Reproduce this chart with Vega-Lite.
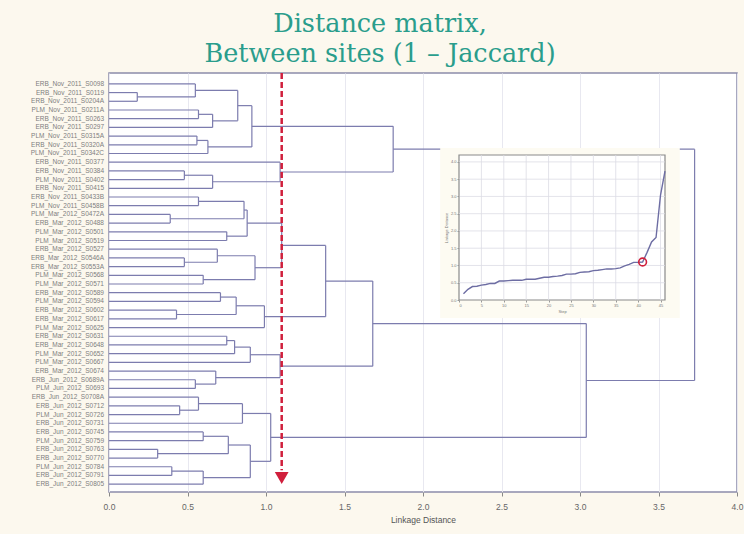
{
  "$schema": "https://vega.github.io/schema/vega-lite/v6.json",
  "width": 628,
  "height": 419,
  "autosize": {"type": "none"},
  "padding": {"left": 109, "top": 73, "right": 7, "bottom": 42},
  "background": "#fcf8ee",
  "title": {
    "text": ["Distance matrix,", "Between sites (1 – Jaccard)"],
    "font": "DejaVu Serif",
    "fontSize": 25.5,
    "fontWeight": "normal",
    "color": "#2a9d8c",
    "lineHeight": 30,
    "anchor": "middle",
    "dx": -43,
    "offset": 4
  },
  "datasets": {
    "nodes": [
      {"h":0.18,"ya":1,"ha":0,"yb":2,"hb":0},
      {"h":0.55,"ya":0,"ha":0,"yb":1.5,"hb":0.18},
      {"h":0.57,"ya":3,"ha":0,"yb":4,"hb":0},
      {"h":0.66,"ya":3.5,"ha":0.57,"yb":5,"hb":0},
      {"h":0.82,"ya":0.75,"ha":0.55,"yb":4.25,"hb":0.66},
      {"h":0.56,"ya":6,"ha":0,"yb":7,"hb":0},
      {"h":0.63,"ya":6.5,"ha":0.56,"yb":8,"hb":0},
      {"h":0.91,"ya":2.5,"ha":0.82,"yb":7.25,"hb":0.63},
      {"h":0.48,"ya":10,"ha":0,"yb":11,"hb":0},
      {"h":0.66,"ya":10.5,"ha":0.48,"yb":12,"hb":0},
      {"h":1.09,"ya":9,"ha":0,"yb":11.25,"hb":0.66},
      {"h":1.81,"ya":4.875,"ha":0.91,"yb":10.125,"hb":1.09},
      {"h":0.57,"ya":13,"ha":0,"yb":14,"hb":0},
      {"h":0.39,"ya":15,"ha":0,"yb":16,"hb":0},
      {"h":0.86,"ya":13.5,"ha":0.57,"yb":15.5,"hb":0.39},
      {"h":0.75,"ya":17,"ha":0,"yb":18,"hb":0},
      {"h":0.88,"ya":14.5,"ha":0.86,"yb":17.5,"hb":0.75},
      {"h":0.48,"ya":20,"ha":0,"yb":21,"hb":0},
      {"h":0.69,"ya":19,"ha":0,"yb":20.5,"hb":0.48},
      {"h":0.6,"ya":22,"ha":0,"yb":23,"hb":0},
      {"h":0.93,"ya":19.75,"ha":0.69,"yb":22.5,"hb":0.6},
      {"h":1.1,"ya":16,"ha":0.88,"yb":21.125,"hb":0.93},
      {"h":0.71,"ya":24,"ha":0,"yb":25,"hb":0},
      {"h":0.43,"ya":26,"ha":0,"yb":27,"hb":0},
      {"h":0.81,"ya":24.5,"ha":0.71,"yb":26.5,"hb":0.43},
      {"h":0.99,"ya":25.5,"ha":0.81,"yb":28,"hb":0},
      {"h":1.38,"ya":18.5625,"ha":1.1,"yb":26.75,"hb":0.99},
      {"h":0.75,"ya":29,"ha":0,"yb":30,"hb":0},
      {"h":0.8,"ya":29.5,"ha":0.75,"yb":31,"hb":0},
      {"h":0.9,"ya":30.25,"ha":0.8,"yb":32,"hb":0},
      {"h":0.55,"ya":34,"ha":0,"yb":35,"hb":0},
      {"h":0.68,"ya":33,"ha":0,"yb":34.5,"hb":0.55},
      {"h":1.09,"ya":31.125,"ha":0.9,"yb":33.75,"hb":0.68},
      {"h":1.68,"ya":22.65625,"ha":1.38,"yb":32.4375,"hb":1.09},
      {"h":0.45,"ya":37,"ha":0,"yb":38,"hb":0},
      {"h":0.57,"ya":36,"ha":0,"yb":37.5,"hb":0.45},
      {"h":0.85,"ya":36.75,"ha":0.57,"yb":39,"hb":0},
      {"h":0.6,"ya":40,"ha":0,"yb":41,"hb":0},
      {"h":0.31,"ya":42,"ha":0,"yb":43,"hb":0},
      {"h":0.76,"ya":40.5,"ha":0.6,"yb":42.5,"hb":0.31},
      {"h":0.4,"ya":44,"ha":0,"yb":45,"hb":0},
      {"h":0.6,"ya":44.5,"ha":0.4,"yb":46,"hb":0},
      {"h":0.9,"ya":41.5,"ha":0.76,"yb":45.25,"hb":0.6},
      {"h":1.03,"ya":37.875,"ha":0.85,"yb":43.375,"hb":0.9},
      {"h":3.04,"ya":27.546875,"ha":1.68,"yb":40.625,"hb":1.03},
      {"h":3.73,"ya":7.5,"ha":1.81,"yb":34.0859,"hb":3.04}
    ],
    "leaves": [
      {"i":0,"name":"ERB_Nov_2011_S0098"},
      {"i":1,"name":"ERB_Nov_2011_S0119"},
      {"i":2,"name":"ERB_Nov_2011_S0204A"},
      {"i":3,"name":"PLM_Nov_2011_S0211A"},
      {"i":4,"name":"ERB_Nov_2011_S0263"},
      {"i":5,"name":"ERB_Nov_2011_S0297"},
      {"i":6,"name":"PLM_Nov_2011_S0315A"},
      {"i":7,"name":"ERB_Nov_2011_S0320A"},
      {"i":8,"name":"PLM_Nov_2011_S0342C"},
      {"i":9,"name":"ERB_Nov_2011_S0377"},
      {"i":10,"name":"ERB_Nov_2011_S0384"},
      {"i":11,"name":"PLM_Nov_2011_S0402"},
      {"i":12,"name":"ERB_Nov_2011_S0415"},
      {"i":13,"name":"ERB_Nov_2011_S0433B"},
      {"i":14,"name":"PLM_Nov_2011_S0458B"},
      {"i":15,"name":"PLM_Mar_2012_S0472A"},
      {"i":16,"name":"ERB_Mar_2012_S0488"},
      {"i":17,"name":"PLM_Mar_2012_S0501"},
      {"i":18,"name":"PLM_Mar_2012_S0519"},
      {"i":19,"name":"ERB_Mar_2012_S0527"},
      {"i":20,"name":"ERB_Mar_2012_S0546A"},
      {"i":21,"name":"ERB_Mar_2012_S0553A"},
      {"i":22,"name":"PLM_Mar_2012_S0568"},
      {"i":23,"name":"PLM_Mar_2012_S0571"},
      {"i":24,"name":"ERB_Mar_2012_S0589"},
      {"i":25,"name":"PLM_Mar_2012_S0594"},
      {"i":26,"name":"ERB_Mar_2012_S0602"},
      {"i":27,"name":"ERB_Mar_2012_S0617"},
      {"i":28,"name":"PLM_Mar_2012_S0625"},
      {"i":29,"name":"ERB_Mar_2012_S0631"},
      {"i":30,"name":"ERB_Mar_2012_S0648"},
      {"i":31,"name":"PLM_Mar_2012_S0652"},
      {"i":32,"name":"PLM_Mar_2012_S0667"},
      {"i":33,"name":"ERB_Mar_2012_S0674"},
      {"i":34,"name":"ERB_Jun_2012_S0689A"},
      {"i":35,"name":"PLM_Jun_2012_S0693"},
      {"i":36,"name":"ERB_Jun_2012_S0708A"},
      {"i":37,"name":"ERB_Jun_2012_S0712"},
      {"i":38,"name":"PLM_Jun_2012_S0726"},
      {"i":39,"name":"ERB_Jun_2012_S0731"},
      {"i":40,"name":"ERB_Jun_2012_S0745"},
      {"i":41,"name":"PLM_Jun_2012_S0759"},
      {"i":42,"name":"ERB_Jun_2012_S0763"},
      {"i":43,"name":"ERB_Jun_2012_S0770"},
      {"i":44,"name":"PLM_Jun_2012_S0784"},
      {"i":45,"name":"ERB_Jun_2012_S0791"},
      {"i":46,"name":"ERB_Jun_2012_S0805"}
    ],
    "schedule": [
      {"step":1,"dist":0.18},{"step":2,"dist":0.31},{"step":3,"dist":0.39},{"step":4,"dist":0.4},
      {"step":5,"dist":0.43},{"step":6,"dist":0.45},{"step":7,"dist":0.48},{"step":8,"dist":0.48},
      {"step":9,"dist":0.55},{"step":10,"dist":0.55},{"step":11,"dist":0.56},{"step":12,"dist":0.57},
      {"step":13,"dist":0.57},{"step":14,"dist":0.57},{"step":15,"dist":0.6},{"step":16,"dist":0.6},
      {"step":17,"dist":0.6},{"step":18,"dist":0.63},{"step":19,"dist":0.66},{"step":20,"dist":0.66},
      {"step":21,"dist":0.68},{"step":22,"dist":0.69},{"step":23,"dist":0.71},{"step":24,"dist":0.75},
      {"step":25,"dist":0.75},{"step":26,"dist":0.76},{"step":27,"dist":0.8},{"step":28,"dist":0.81},
      {"step":29,"dist":0.82},{"step":30,"dist":0.85},{"step":31,"dist":0.86},{"step":32,"dist":0.88},
      {"step":33,"dist":0.9},{"step":34,"dist":0.9},{"step":35,"dist":0.91},{"step":36,"dist":0.93},
      {"step":37,"dist":0.99},{"step":38,"dist":1.03},{"step":39,"dist":1.09},{"step":40,"dist":1.09},
      {"step":41,"dist":1.1},{"step":42,"dist":1.38},{"step":43,"dist":1.68},{"step":44,"dist":1.81},
      {"step":45,"dist":3.04},{"step":46,"dist":3.73}
    ]
  },
  "layer": [
    {
      "layer": [
        {
          "data": {"name": "nodes"},
          "mark": {"type": "rule", "color": "#7c7cae", "strokeWidth": 1.2},
          "encoding": {
            "x": {"field": "h", "type": "quantitative",
              "scale": {"domain": [0, 4], "nice": false, "zero": false},
              "axis": {"values": [0, 0.5, 1, 1.5, 2, 2.5, 3, 3.5, 4], "format": ".1f",
                "title": "Linkage Distance", "grid": true, "gridColor": "#e8e8f0",
                "domain": false, "tickColor": "#888", "tickSize": 4, "labelFlush": false,
                "labelFontSize": 8.5, "labelColor": "#666", "labelPadding": 6,
                "titleFontSize": 8.5, "titleFontWeight": "normal", "titleColor": "#555",
                "titlePadding": 5}},
            "y": {"field": "ya", "type": "quantitative",
              "scale": {"domain": [-1.25, 46.9], "reverse": true, "nice": false, "zero": false},
              "axis": null},
            "y2": {"field": "yb"}
          }
        },
        {
          "data": {"name": "nodes"},
          "mark": {"type": "rule", "color": "#7c7cae", "strokeWidth": 1.2},
          "encoding": {
            "x": {"field": "ha", "type": "quantitative"},
            "x2": {"field": "h"},
            "y": {"field": "ya", "type": "quantitative"}
          }
        },
        {
          "data": {"name": "nodes"},
          "mark": {"type": "rule", "color": "#7c7cae", "strokeWidth": 1.2},
          "encoding": {
            "x": {"field": "hb", "type": "quantitative"},
            "x2": {"field": "h"},
            "y": {"field": "yb", "type": "quantitative"}
          }
        },
        {
          "data": {"name": "leaves"},
          "mark": {"type": "text", "align": "right", "baseline": "middle", "dx": -5, "fontSize": 6.5, "color": "#7e7e7e"},
          "encoding": {
            "x": {"datum": 0, "type": "quantitative"},
            "y": {"field": "i", "type": "quantitative"},
            "text": {"field": "name"}
          }
        },
        {
          "data": {"values": [{"cut": 1.1, "top": -1.25, "bottom": 44.4}]},
          "mark": {"type": "rule", "color": "#d01f3c", "strokeWidth": 2.5, "strokeDash": [6, 3]},
          "encoding": {
            "x": {"field": "cut", "type": "quantitative"},
            "y": {"field": "top", "type": "quantitative"},
            "y2": {"field": "bottom"}
          }
        },
        {
          "data": {"values": [{"cut": 1.1, "pos": 45.3}]},
          "mark": {"type": "point", "shape": "triangle-down", "filled": true, "color": "#d01f3c", "size": 190, "opacity": 1},
          "encoding": {
            "x": {"field": "cut", "type": "quantitative"},
            "y": {"field": "pos", "type": "quantitative"}
          }
        }
      ]
    },
    {
      "layer": [
        {
          "data": {"values": [{"x1": -4.2, "x2": 49.3, "y1": -0.52, "y2": 4.4}]},
          "mark": {"type": "rect", "fill": "#fdfbf2"},
          "encoding": {
            "x": {"field": "x1", "type": "quantitative",
              "scale": {"domain": [0, 46], "range": [350, 556], "nice": false, "zero": false},
              "axis": {"orient": "bottom", "offset": -192, "values": [0, 5, 10, 15, 20, 25, 30, 35, 40, 45],
                "title": "Step", "titleFontSize": 4, "titleFontWeight": "normal", "titleColor": "#777", "titlePadding": 2,
                "labelFontSize": 4, "labelColor": "#777", "labelPadding": 1, "tickSize": 2, "tickColor": "#999",
                "domain": false, "grid": false, "zindex": 1}},
            "x2": {"field": "x2"},
            "y": {"field": "y1", "type": "quantitative",
              "scale": {"domain": [0, 4.2], "range": [227, 82], "nice": false, "zero": false},
              "axis": {"orient": "left", "offset": -350, "values": [0, 0.5, 1, 1.5, 2, 2.5, 3, 3.5, 4], "format": ".1f",
                "title": "Linkage Distance", "titleFontSize": 4, "titleFontWeight": "normal", "titleColor": "#777", "titlePadding": 2,
                "labelFontSize": 4, "labelColor": "#777", "labelPadding": 1, "tickSize": 2, "tickColor": "#999",
                "domain": false, "grid": false, "zindex": 1}},
            "y2": {"field": "y2"}
          }
        },
        {
          "data": {"values": [{"x1": 0, "x2": 46, "y1": 0, "y2": 4.2}]},
          "mark": {"type": "rect", "fill": "white", "stroke": "#8a8a8a", "strokeWidth": 1.2},
          "encoding": {
            "x": {"field": "x1", "type": "quantitative"},
            "x2": {"field": "x2"},
            "y": {"field": "y1", "type": "quantitative"},
            "y2": {"field": "y2"}
          }
        },
        {
          "data": {"values": [{"g":5},{"g":10},{"g":15},{"g":20},{"g":25},{"g":30},{"g":35},{"g":40},{"g":45}]},
          "mark": {"type": "rule", "color": "#dcdce4", "strokeWidth": 0.8},
          "encoding": {
            "x": {"field": "g", "type": "quantitative"},
            "y": {"datum": 0, "type": "quantitative"},
            "y2": {"datum": 4.2}
          }
        },
        {
          "data": {"values": [{"g":0.5},{"g":1},{"g":1.5},{"g":2},{"g":2.5},{"g":3},{"g":3.5},{"g":4}]},
          "mark": {"type": "rule", "color": "#dcdce4", "strokeWidth": 0.8},
          "encoding": {
            "y": {"field": "g", "type": "quantitative"},
            "x": {"datum": 0, "type": "quantitative"},
            "x2": {"datum": 46}
          }
        },
        {
          "data": {"name": "schedule"},
          "mark": {"type": "line", "color": "#6d6da3", "strokeWidth": 1.4},
          "encoding": {
            "x": {"field": "step", "type": "quantitative"},
            "y": {"field": "dist", "type": "quantitative"}
          }
        },
        {
          "data": {"values": [{"step": 41, "dist": 1.1}]},
          "mark": {"type": "point", "filled": false, "color": "#d01f3c", "strokeWidth": 1.6, "size": 60, "opacity": 1},
          "encoding": {
            "x": {"field": "step", "type": "quantitative"},
            "y": {"field": "dist", "type": "quantitative"}
          }
        }
      ]
    }
  ],
  "resolve": {
    "scale": {"x": "independent", "y": "independent"},
    "axis": {"x": "independent", "y": "independent"}
  },
  "config": {
    "font": "Liberation Sans",
    "view": {"fill": "white", "stroke": "#8c8cab", "strokeWidth": 1.5}
  }
}
